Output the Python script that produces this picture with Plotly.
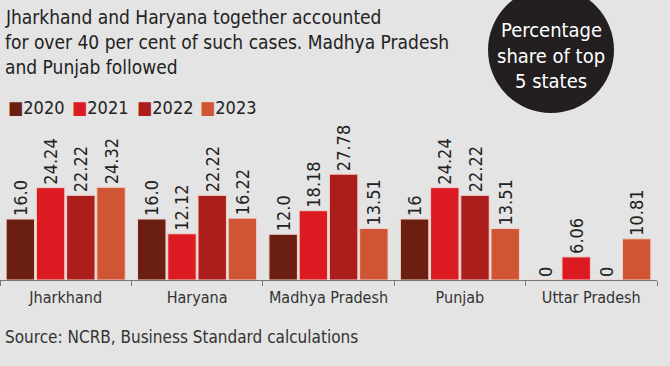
import plotly.graph_objects as go

states = ["Jharkhand", "Haryana", "Madhya Pradesh", "Punjab", "Uttar Pradesh"]
years = ["2020", "2021", "2022", "2023"]
v2020 = [16.0, 16.0, 12.0, 16.0, 0]
v2021 = [24.24, 12.12, 18.18, 24.24, 6.06]
v2022 = [22.22, 22.22, 27.78, 22.22, 0]
v2023 = [24.32, 16.22, 13.51, 13.51, 10.81]
t2020 = ["16.0", "16.0", "12.0", "16", "0"]
t2021 = ["24.24", "12.12", "18.18", "24.24", "6.06"]
t2022 = ["22.22", "22.22", "27.78", "22.22", "0"]
t2023 = ["24.32", "16.22", "13.51", "13.51", "10.81"]
colors = ["#6a1f11", "#dc1a22", "#ab1e1c", "#cf5535"]

FONT = "DejaVu Sans Condensed, Roboto, sans-serif"
W, H = 670, 366
L, R, T, B = 0, 13, 120, 86
PW, PH = W - L - R, H - T - B


def px(x):
    return (x - L) / PW


def py(y):
    return (H - B - y) / PH


fig = go.Figure()
for yr, vals, txt, col in zip(years, [v2020, v2021, v2022, v2023],
                              [t2020, t2021, t2022, t2023], colors):
    fig.add_trace(go.Bar(
        x=states, y=vals, name=yr, text=txt, textposition="outside",
        textangle=-90, constraintext="none", cliponaxis=False,
        textfont=dict(family=FONT, size=18, color="#222222"),
        marker=dict(color=col, line=dict(width=1, color="#f0d2ca")), showlegend=False,
    ))

ann = []
title_lines = ["Jharkhand and Haryana together accounted",
               "for over 40 per cent of such cases. Madhya Pradesh",
               "and Punjab followed"]
for i, line in enumerate(title_lines):
    ann.append(dict(text=line, x=px(3), y=py(17 + 25 * i), xref="paper", yref="paper",
                    xanchor="left", yanchor="middle", showarrow=False,
                    font=dict(family=FONT, size=19, color="#222222")))

circle_lines = ["Percentage", "share of top", "5 states"]
for i, line in enumerate(circle_lines):
    ann.append(dict(text=line, x=px(551), y=py(30 + 25.5 * i), xref="paper", yref="paper",
                    xanchor="center", yanchor="middle", showarrow=False,
                    font=dict(family=FONT, size=20, color="#ffffff")))

leg_x = [8, 72, 137, 200]
for yr, col, lx in zip(years, colors, leg_x):
    ann.append(dict(text=f'<span style="color:{col}">■</span>{yr}', x=px(lx - 2), y=py(107),
                    xref="paper", yref="paper", xanchor="left", yanchor="middle",
                    showarrow=False, font=dict(family=FONT, size=18, color="#222222")))

ann.append(dict(text="Source: NCRB, Business Standard calculations", x=px(3), y=py(337),
                xref="paper", yref="paper", xanchor="left", yanchor="middle",
                showarrow=False, font=dict(family=FONT, size=17, color="#333333")))

fig.update_layout(
    width=W, height=H,
    margin=dict(l=L, r=R, t=T, b=B, pad=0),
    paper_bgcolor="#e4e4e4", plot_bgcolor="#e4e4e4",
    barmode="group", bargap=0.08, bargroupgap=0.06,
    font=dict(family=FONT),
    annotations=ann,
    shapes=[dict(type="circle", xref="paper", yref="paper",
                 x0=px(488), x1=px(614), y0=py(-13), y1=py(113),
                 fillcolor="#231f20", line=dict(width=0), layer="below")],
    xaxis=dict(showline=True, linecolor="#777777", linewidth=1, ticks="outside",
               tickson="boundaries", ticklen=5, tickcolor="#777777", tickangle=0,
               ticklabelstandoff=3,
               tickfont=dict(family=FONT, size=16, color="#333333"),
               showgrid=False, fixedrange=True),
    yaxis=dict(visible=False, range=[0, PH / 3.81], showgrid=False, fixedrange=True),
)

fig.write_html("out.html", config={"displayModeBar": False},
               post_script="document.body.style.margin='0';")
